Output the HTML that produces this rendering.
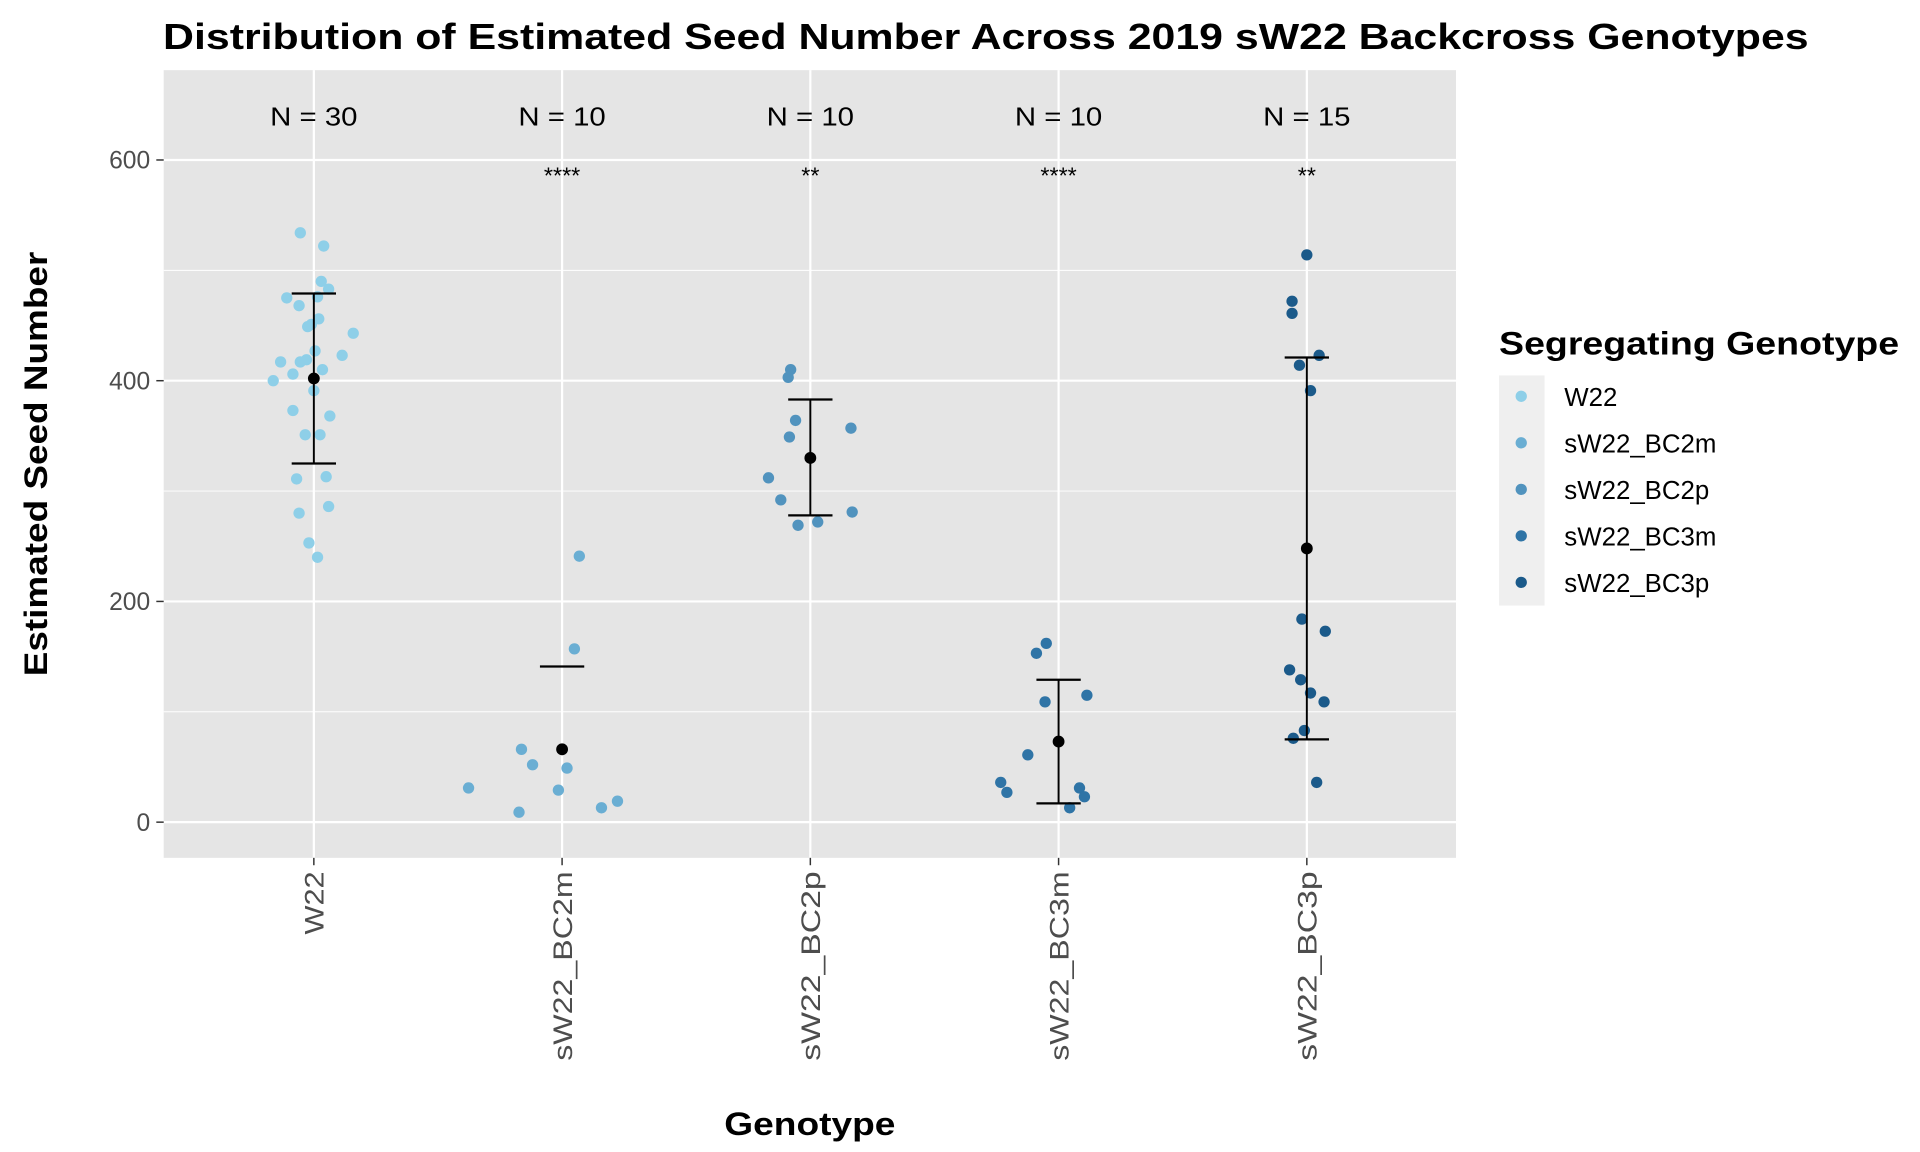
<!DOCTYPE html>
<html><head><meta charset="utf-8"><style>
html,body{margin:0;padding:0;background:#fff;}
svg{display:block;font-family:"Liberation Sans",Arial,sans-serif;}
</style></head><body>
<svg id="chart" width="1920" height="1152" viewBox="0 0 1560 936" xmlns="http://www.w3.org/2000/svg">
<rect width="1560" height="936" fill="#fff"/>
<text x="801" y="40" text-anchor="middle" font-size="29" font-weight="bold" textLength="1337" lengthAdjust="spacingAndGlyphs">Distribution of Estimated Seed Number Across 2019 sW22 Backcross Genotypes</text>
<rect x="133" y="57" width="1050" height="640" fill="#e5e5e5"/>
<g id="grid"></g>
<g id="marks"></g>
<g id="axes"></g>
<text x="658" y="922" text-anchor="middle" font-size="26" font-weight="bold" textLength="139" lengthAdjust="spacingAndGlyphs">Genotype</text>
<text transform="translate(38,377) rotate(-90)" text-anchor="middle" font-size="26" font-weight="bold" textLength="345" lengthAdjust="spacingAndGlyphs">Estimated Seed Number</text>
<g>
<text x="1218" y="288" font-size="26" font-weight="bold" textLength="325" lengthAdjust="spacingAndGlyphs">Segregating Genotype</text>
<rect x="1218" y="305" width="37" height="187" fill="#efefef"/>
<g id="legend-items"></g>
</g>
</svg>
<script>
const categories = ["W22","sW22_BC2m","sW22_BC2p","sW22_BC3m","sW22_BC3p"];
const colors = ["#8ecfe8","#6aaed3","#5193be","#2f74a6","#1b5a8a"];
const nLabels = ["N = 30","N = 10","N = 10","N = 10","N = 15"];
const sigLabels = ["","****","**","****","**"];
const valsW22 = [534,522,490,483,475,476,468,456,451,443,423,427,419,417,417,400,406,391,373,368,351,351,311,313,286,280,253,240,449,410];
const jitW22 = [-11,8,6,12,-22,3,-12,4,-2,32,23,1,-6,-27,-11,-33,-17,0,-17,13,-7,5,-14,10,12,-12,-4,3,-5,7];
const valsBC2m = [31,66,52,49,29,9,13,19,157,241];
const jitBC2m = [-76,-33,-24,4,-3,-35,32,45,10,14];
const valsBC2p = [410,403,364,357,349,312,292,281,272,269];
const jitBC2p = [-16,-18,-12,33,-17,-34,-24,34,6,-10];
const valsBC3m = [162,153,115,109,61,36,27,31,23,13];
const jitBC3m = [-10,-18,23,-11,-25,-47,-42,17,21,9];
const valsBC3p = [514,472,461,423,414,391,184,173,138,129,117,109,83,76,36];
const jitBC3p = [0,-12,-12,10,-6,3,-4,15,-14,-5,3,14,-2,-11,8];
const means = [402,66,330,73,248];
const errLow = [325,null,278,17,75];
const errHigh = [479,141,383,129,421];
const yTicks = [0,200,400,600];
const yMinor = [100,300,500];

const series=[[valsW22,jitW22],[valsBC2m,jitBC2m],[valsBC2p,jitBC2p],[valsBC3m,jitBC3m],[valsBC3p,jitBC3p]];
const NS="http://www.w3.org/2000/svg";
function y(v){return 668-v*0.8967;}
function x(i){return 255+i*201.7;}
function mk(parent,tag,attrs){const e=document.createElementNS(NS,tag);for(const k in attrs)e.setAttribute(k,attrs[k]);document.getElementById(parent).appendChild(e);return e;}
yMinor.forEach(v=>{const l=mk('grid','line',{x1:133,x2:1183,y1:y(v),y2:y(v),stroke:'#fff','stroke-width':0.8});

});
yTicks.forEach(v=>{const l=mk('grid','line',{x1:133,x2:1183,y1:y(v),y2:y(v),stroke:'#fff','stroke-width':1.8});


const t=mk('axes','line',{x1:127,x2:133,y1:y(v),y2:y(v),stroke:'#333','stroke-width':1.2});


const lb=mk('axes','text',{x:122,y:y(v)+7,'text-anchor':'end','font-size':20,fill:'#4d4d4d'});lb.textContent=v;

});
categories.forEach((c,i)=>{const l=mk('grid','line',{x1:x(i),x2:x(i),y1:57,y2:697,stroke:'#fff','stroke-width':1.8});


const t=mk('axes','line',{x1:x(i),x2:x(i),y1:697,y2:703,stroke:'#333','stroke-width':1.2});


const lb=mk('axes','text',{transform:`translate(${x(i)+8},708) rotate(-90)`,'text-anchor':'end','font-size':22,fill:'#4d4d4d'});lb.textContent=c;
lb.setAttribute('textLength', c.length*17.1);
lb.setAttribute('lengthAdjust','spacingAndGlyphs');


const n=mk('marks','text',{x:x(i),y:102,'text-anchor':'middle','font-size':21,textLength:71,lengthAdjust:'spacingAndGlyphs'});n.textContent=nLabels[i];


if(sigLabels[i]){const s=mk('marks','text',{x:x(i),y:149,'text-anchor':'middle','font-size':19});s.textContent=sigLabels[i];

}
const [vals,jit]=series[i];
vals.forEach((v,j)=>{const p=mk('marks','circle',{cx:x(i)+jit[j],cy:y(v),r:4.6,fill:colors[i]});

});
if(errLow[i]!==null){const e=mk('marks','line',{x1:x(i),x2:x(i),y1:y(errLow[i]),y2:y(errHigh[i]),stroke:'#000','stroke-width':1.6});


const b=mk('marks','line',{x1:x(i)-18,x2:x(i)+18,y1:y(errLow[i]),y2:y(errLow[i]),stroke:'#000','stroke-width':1.8});

}
const tcap=mk('marks','line',{x1:x(i)-18,x2:x(i)+18,y1:y(errHigh[i]),y2:y(errHigh[i]),stroke:'#000','stroke-width':1.8});


const m=mk('marks','circle',{cx:x(i),cy:y(means[i]),r:4.8,fill:'#000'});


const ly=322+i*37.8;
const lc=mk('legend-items','circle',{cx:1236,cy:ly,r:4.6,fill:colors[i]});


const lt=mk('legend-items','text',{x:1271,y:ly+8,'font-size':21});lt.textContent=c;


});
</script>
</body></html>
